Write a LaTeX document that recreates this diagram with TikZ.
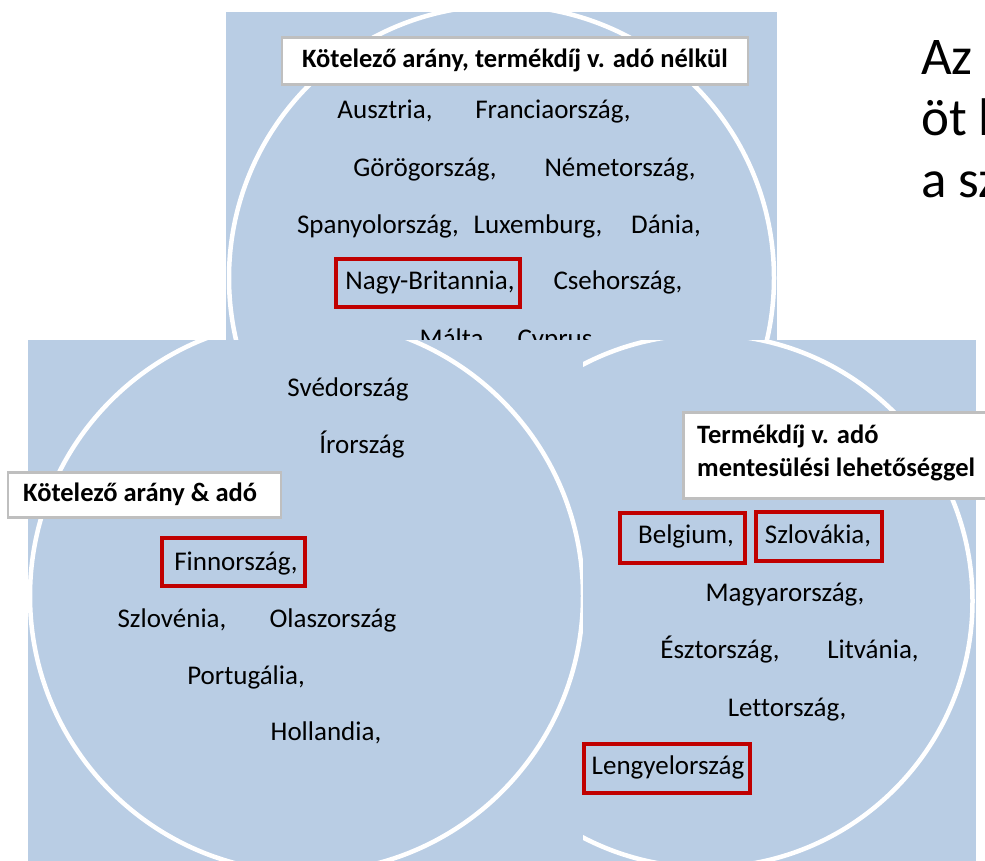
\documentclass[tikz,border=0pt]{standalone}
\usepackage{fontspec}
\setmainfont{Carlito}[Ligatures={NoCommon}]
\definecolor{panel}{HTML}{B9CDE4}
\definecolor{redbox}{HTML}{C00000}
\definecolor{boxgray}{HTML}{BFBFBF}
\begin{document}
\begin{tikzpicture}[x=1pt,y=-1pt,
  ring/.style={draw=white,line width=4.5pt},
  country/.style={font=\fontsize{27}{32}\selectfont,inner sep=0pt,text height=19pt,text depth=6pt,anchor=center},
  hl/.style={draw=redbox,line width=4pt,inner sep=0pt},
  titlebox/.style={draw=boxgray,line width=2.5pt,fill=white,inner sep=0pt},
  titletext/.style={font=\bfseries\fontsize{26.5}{33}\selectfont,inner sep=0pt,text height=19pt,text depth=6pt},
  bigtext/.style={font=\fontsize{53}{60}\selectfont,inner sep=0pt,anchor=west,text height=37pt,text depth=11pt}]
\clip (0,0) rectangle (985,861);
\fill[white] (0,0) rectangle (985,861);
% top panel
\fill[panel] (226,12) rectangle (777,340);
\begin{scope}
  \clip (226,12) rectangle (777,340);
  \draw[ring] (501.5,278) circle (272.5pt);
\end{scope}
\node[titlebox,minimum width=466pt,minimum height=47pt] (tbox) at (515,61) {};
\node[titletext] (ttext) at (515,61) {Kötelező arány, termékdíj v. adó nélkül};
\node[country] (aus) at (385,112) {Ausztria,};
\node[country] (fra) at (553,112) {Franciaország,};
\node[country] (gor) at (425,170) {Görögország,};
\node[country] (nem) at (620,170) {Németország,};
\node[country] (spa) at (378,227) {Spanyolország,};
\node[country] (lux) at (538,227) {Luxemburg,};
\node[country] (dan) at (666,227) {Dánia,};
\node[hl,minimum width=184pt,minimum height=48pt] (nbbox) at (428,283) {};
\node[country] (nb) at (430,283) {Nagy-Britannia,};
\node[country] (cse) at (618,283) {Csehország,};
\node[country] (mal) at (455,341) {Málta,};
\node[country] (cyp) at (555,341) {Cyprus};
% left panel
\fill[panel] (28,340) rectangle (583,861);
\begin{scope}
  \clip (28,340) rectangle (583,861);
  \draw[ring] (306.5,596) circle (276.5pt);
\end{scope}
% right panel
\fill[panel] (583,340) rectangle (976,861);
\begin{scope}
  \clip (583,340) rectangle (976,861);
  \draw[ring] (706,601) circle (266.5pt);
\end{scope}
% left contents
\node[titlebox,minimum width=273pt,minimum height=45pt] (lbox) at (144.5,495) {};
\node[titletext,anchor=west] (ltext) at (23,495) {Kötelező arány \& adó};
\node[country] (sve) at (348,390) {Svédország};
\node[country] (ir) at (362,447) {Írország};
\node[hl,minimum width=143pt,minimum height=48pt] (finbox) at (233.5,562) {};
\node[country] (fin) at (236,564) {Finnország,};
\node[country] (szl) at (172,621) {Szlovénia,};
\node[country] (ola) at (333,621) {Olaszország};
\node[country] (por) at (246,678) {Portugália,};
\node[country] (hol) at (326,734) {Hollandia,};
% right contents
\node[titlebox,minimum width=320pt,minimum height=86pt,anchor=north west] (rbox) at (682,411) {};
\node[titletext,anchor=west] (rtext1) at (697,437) {Termékdíj v. adó};
\node[titletext,anchor=west] (rtext2) at (697,470) {mentesülési lehetőséggel};
\node[hl,minimum width=125pt,minimum height=50pt] (belbox) at (682.5,538) {};
\node[country] (bel) at (686,537) {Belgium,};
\node[hl,minimum width=126pt,minimum height=49pt] (szkbox) at (819,536.5) {};
\node[country] (szk) at (818,537) {Szlovákia,};
\node[country] (mag) at (785,595) {Magyarország,};
\node[country] (esz) at (720,652) {Észtország,};
\node[country] (lit) at (873,652) {Litvánia,};
\node[country] (let) at (787,710) {Lettország,};
\node[hl,minimum width=166pt,minimum height=49pt] (lenbox) at (667,768.5) {};
\node[country] (len) at (668,768) {Lengyelország};
% right side text
\node[bigtext] (az) at (921,62) {Az};
\node[bigtext] (ot) at (921,123) {öt l};
\node[bigtext] (asz) at (921,185) {a sz};
\end{tikzpicture}
\end{document}
